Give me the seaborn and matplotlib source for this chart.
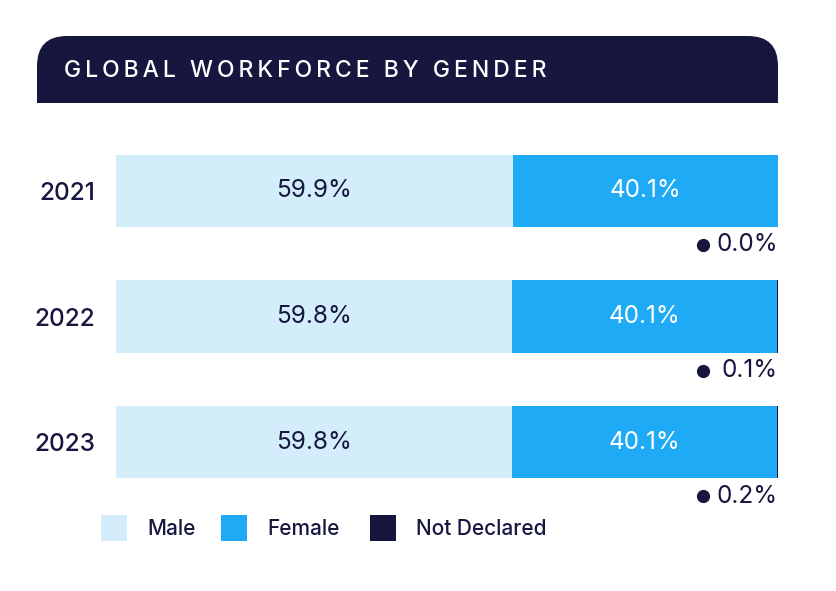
import pandas as pd
import matplotlib.pyplot as plt
import matplotlib.transforms as mtransforms
import seaborn as sns
from matplotlib.patches import FancyBboxPatch, Rectangle

years = ["2021", "2022", "2023"]
male = [59.9, 59.8, 59.8]
female = [40.1, 40.1, 40.1]
not_declared = [0.0, 0.1, 0.2]

title = "GLOBAL WORKFORCE BY GENDER"
legend_labels = ["Male", "Female", "Not Declared"]

c_male = "#d3edfb"
c_female = "#1eaaf4"
c_nd = "#16163f"
navy = "#16163f"

sns.set_theme(style="white")
plt.rcParams["font.family"] = ["Inter", "DejaVu Sans"]

df = pd.DataFrame({"year": years, "male": male, "female": female, "nd": not_declared})
df["mf"] = df["male"] + df["female"]
df["total"] = df["mf"] + df["nd"]

W, H = 837, 591
fig = plt.figure(figsize=(W / 100, H / 100), dpi=100)

# background layer in pixel coordinates for the header + legend
bg = fig.add_axes([0, 0, 1, 1])
bg.set_xlim(0, W)
bg.set_ylim(H, 0)
bg.axis("off")
bg.add_patch(FancyBboxPatch((37, 36), 741, 67, boxstyle="round,pad=0,rounding_size=30",
                            fc=navy, ec="none"))
bg.add_patch(Rectangle((37, 70), 741, 33, fc=navy, ec="none"))
# letter-spaced title
spaced = "\u2009".join(title)
bg.text(64, 71, spaced, color="white", fontsize=16.5, va="center", ha="left",
        fontweight="medium")

# legend
for x0, lab, col in zip([101, 221, 370], legend_labels, [c_male, c_female, c_nd]):
    bg.add_patch(Rectangle((x0, 515), 26, 26, fc=col, ec="none"))
    bg.text(x0 + 46, 529, lab, color=navy, fontsize=15, va="center", ha="left",
            fontweight="medium")

# bars
ax = fig.add_axes([116 / W, 1 - 505 / H, (778 - 116) / W, (505 - 128) / H])
for col, c in [("total", c_nd), ("mf", c_female), ("male", c_male)]:
    sns.barplot(data=df, x=col, y="year", color=c, width=0.574, orient="h", ax=ax,
                saturation=1, order=years, linewidth=0, edgecolor="none")

ax.set_xlim(0, 100)
ax.set_ylim(2.5, -0.5)
ax.set_xlabel("")
ax.set_ylabel("")
ax.set_xticks([])
ax.tick_params(axis="y", length=0, pad=15, labelsize=17.5, labelcolor=navy)
for t in ax.get_yticklabels():
    t.set_fontweight("medium")
sns.despine(ax=ax, left=True, bottom=True)
ax.patch.set_alpha(0)

dot_shift = ax.transData + mtransforms.ScaledTranslation(-75 / 100, 0, fig.dpi_scale_trans)
for i, row in df.iterrows():
    ax.text(row["male"] / 2, i, f"{row['male']:.1f}%", ha="center", va="center",
            color=navy, fontsize=17.5)
    ax.text(row["male"] + row["female"] / 2, i, f"{row['female']:.1f}%", ha="center",
            va="center", color="white", fontsize=17.5)
    ax.text(100, i + 0.43, f"{row['nd']:.1f}%", ha="right", va="center",
            color=navy, fontsize=17.5, clip_on=False)
    ax.plot([100], [i + 0.43], marker="o", ms=8.5, color=navy, clip_on=False,
            transform=dot_shift)

fig.savefig("out.png", dpi=100)
